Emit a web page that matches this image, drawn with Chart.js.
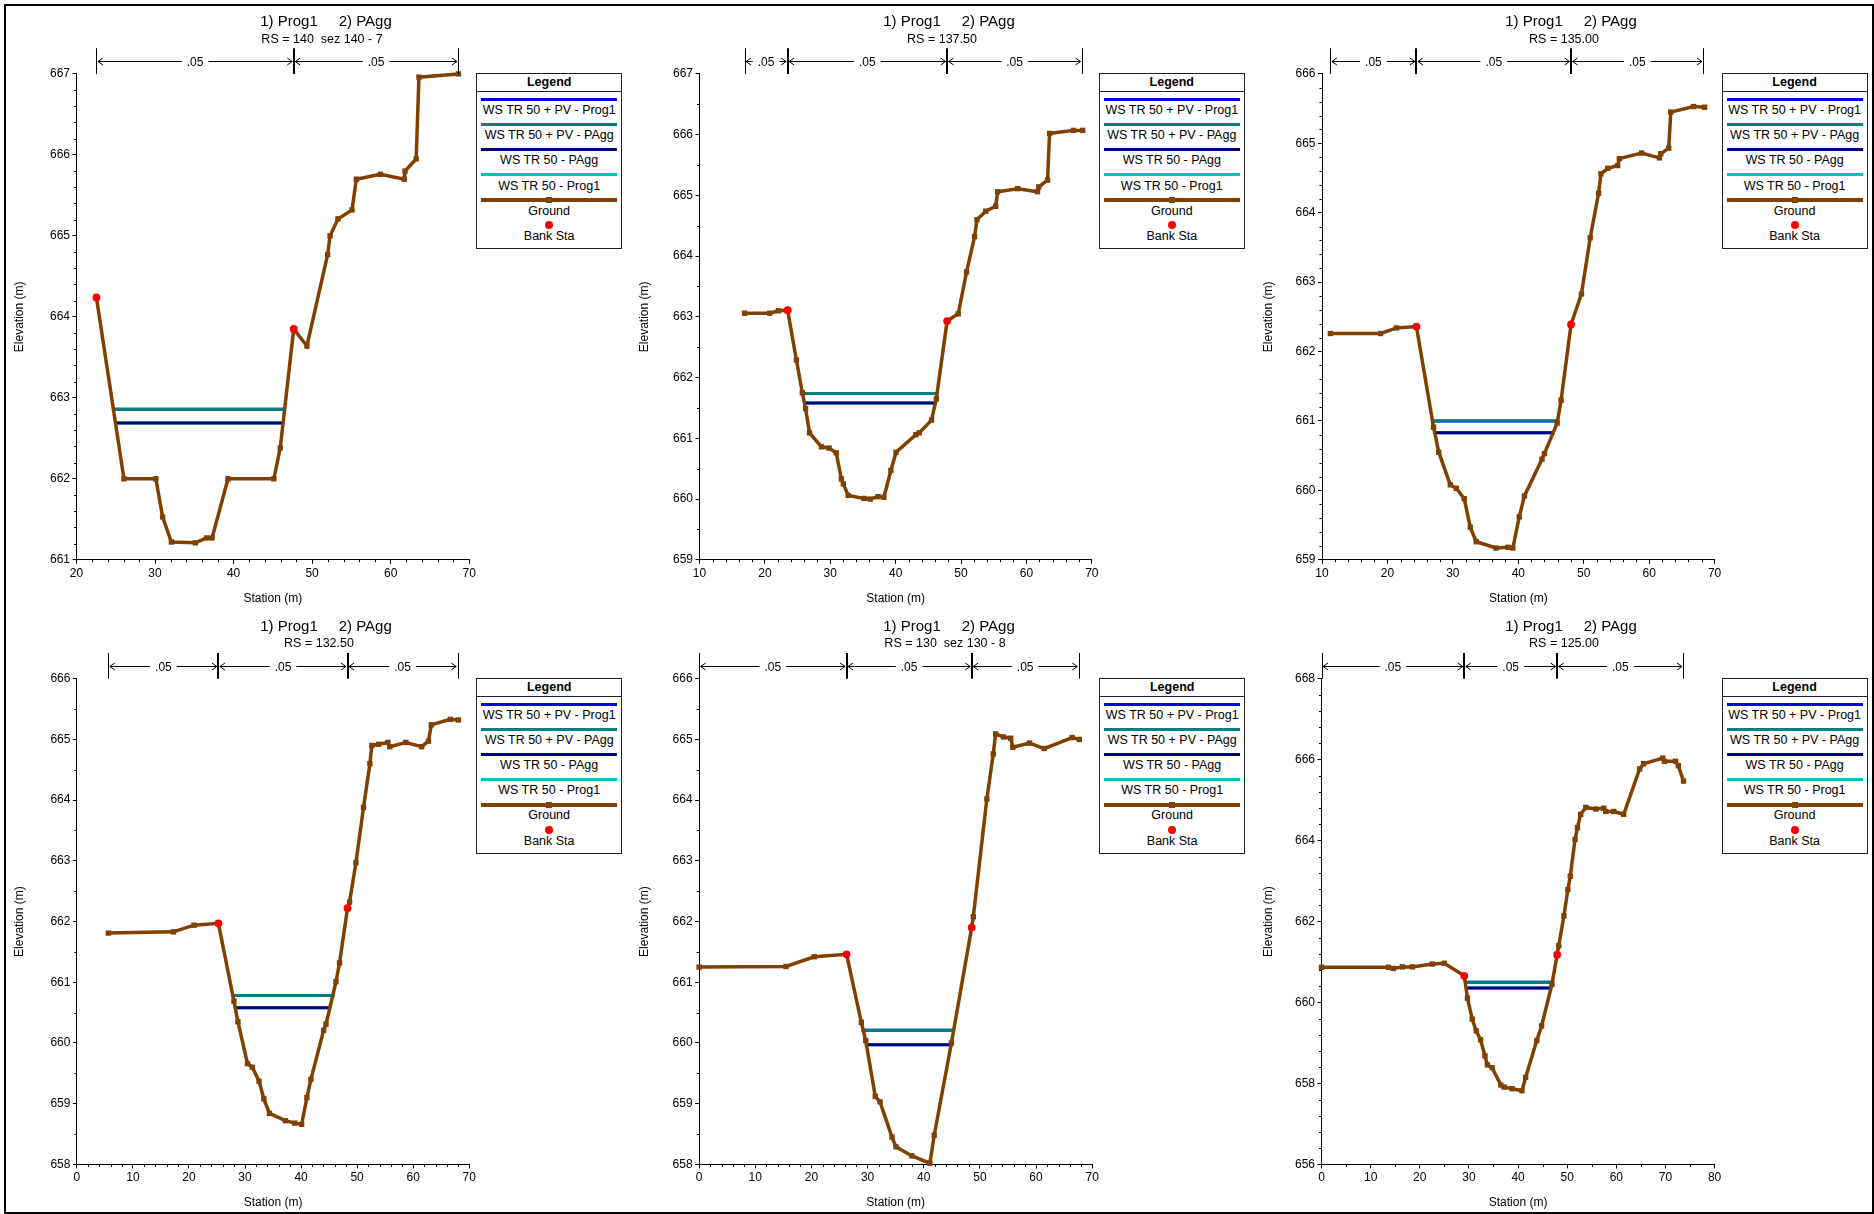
<!DOCTYPE html>
<html>
<head>
<meta charset="utf-8">
<script src="https://cdn.jsdelivr.net/npm/chart.js@4.4.1/dist/chart.umd.min.js"></script>
<style>
html,body{margin:0;padding:0;background:#fff;}
body{width:1874px;height:1214px;position:relative;overflow:hidden;font-family:"Liberation Sans",Arial,sans-serif;color:#000;}
.frame{position:absolute;left:4px;top:4px;width:1870px;height:1210px;border:2px solid #000;box-sizing:border-box;pointer-events:none;z-index:5;}
.panel{position:absolute;width:624px;height:607px;}
.panel canvas{position:absolute;left:0;top:0;}
.ttl{position:absolute;white-space:pre;transform:translate(-50%,-50%);line-height:1;}
.legend{position:absolute;width:146px;height:176px;border:1px solid #222;box-sizing:border-box;background:#fff;}
.legend .t{position:absolute;left:0;right:0;text-align:center;font-size:12.5px;line-height:1;transform:translateY(-50%);white-space:pre;}
.legend .h{font-weight:bold;}
.legend .sep{position:absolute;left:0;right:0;height:1px;background:#222;}
.legend .ln{position:absolute;left:4px;right:4px;height:3px;}
.legend .mk{position:absolute;width:6px;height:6px;left:50%;margin-left:-3px;}
.legend .dot{position:absolute;width:8px;height:8px;border-radius:50%;left:50%;margin-left:-4px;background:#ff0000;}
</style>
</head>
<body>
<div class="frame"></div>
<script>
// ---------------- DATA ----------------
const seriesLabels = ['WS TR 50 + PV - Prog1','WS TR 50 + PV - PAgg','WS TR 50 - PAgg','WS TR 50 - Prog1','Ground','Bank Sta'];
const seriesColors = ['#0000ff','#008080','#000080','#00c0c0','#804000','#ff0000'];

const titleMain = '1) Prog1     2) PAgg';
const subTitles = ['RS = 140  sez 140 - 7','RS = 137.50','RS = 135.00','RS = 132.50','RS = 130  sez 130 - 8','RS = 125.00'];

// Panel 1 : RS 140
const p1GroundX = [22.54,26.04,30.10,30.96,32.08,35.13,36.55,37.26,39.29,45.13,45.94,47.66,49.34,51.98,52.28,53.30,55.08,55.63,58.68,61.73,61.83,63.25,63.60,68.63];
const p1GroundY = [664.24,662.00,662.00,661.53,661.22,661.21,661.27,661.27,662.00,662.00,662.38,663.85,663.64,664.77,665.00,665.21,665.32,665.70,665.76,665.70,665.80,665.95,666.96,667.00];
const p1BankX = [22.54,47.66];
const p1BankY = [664.24,663.85];
const p1WsPv = [662.86, 24.62, 46.65];
const p1Ws = [662.69, 24.82, 46.45];
const p1NSta = [22.54,47.66,68.63];
const p1NVal = ['.05','.05'];

// Panel 2 : RS 137.50
const p2GroundX = [16.89,20.73,22.07,23.48,24.82,25.73,26.22,26.83,28.66,29.82,30.91,31.70,32.00,32.74,35.18,36.10,37.30,38.20,39.27,40.06,43.10,43.60,45.49,46.22,47.87,49.57,50.85,52.07,52.44,53.78,55.30,55.60,58.66,61.70,61.89,63.23,63.54,67.20,68.60];
const p2GroundY = [663.06,663.06,663.10,663.11,662.29,661.75,661.49,661.09,660.86,660.84,660.76,660.33,660.25,660.06,660.01,660.00,660.04,660.03,660.47,660.77,661.06,661.09,661.30,661.65,662.93,663.05,663.74,664.32,664.60,664.74,664.82,665.06,665.11,665.06,665.14,665.25,666.02,666.07,666.07];
const p2BankX = [23.48,47.87];
const p2BankY = [663.11,662.93];
const p2WsPv = [661.74, 25.61, 46.46];
const p2Ws = [661.58, 25.85, 46.22];
const p2NSta = [16.89,23.48,47.87,68.50];
const p2NVal = ['.05','.05','.05'];

// Panel 3 : RS 135.00
const p3GroundX = [11.28,18.95,21.39,24.43,27.05,27.84,29.61,30.52,31.74,32.66,33.57,36.60,38.44,39.17,40.15,40.94,43.62,43.99,45.94,46.54,48.06,49.65,50.99,52.27,52.63,53.67,55.19,55.44,58.85,61.58,61.77,62.99,63.30,66.77,68.47];
const p3GroundY = [662.26,662.26,662.34,662.36,660.91,660.55,660.08,660.03,659.88,659.47,659.26,659.17,659.18,659.17,659.62,659.92,660.45,660.53,660.97,661.30,662.39,662.83,663.64,664.28,664.56,664.64,664.68,664.78,664.86,664.79,664.85,664.93,665.45,665.53,665.52];
const p3BankX = [24.43,48.06];
const p3BankY = [662.36,662.39];
const p3WsPv = [661.00, 26.75, 46.24];
const p3Ws = [660.83, 27.05, 45.57];
const p3NSta = [11.28,24.43,48.06,68.30];
const p3NVal = ['.05','.05','.05'];

// Panel 4 : RS 132.50
const p4GroundX = [5.62,17.20,20.90,25.25,28.02,28.73,30.44,31.30,32.50,33.36,34.36,37.20,38.90,40.10,41.04,41.75,44.03,44.45,46.23,46.87,48.29,48.65,49.79,51.14,52.28,52.63,53.84,55.48,55.83,58.68,61.52,62.73,63.23,66.64,68.07];
const p4GroundY = [661.81,661.83,661.94,661.97,660.69,660.35,659.66,659.60,659.37,659.08,658.84,658.72,658.68,658.66,659.10,659.40,660.21,660.31,661.01,661.32,662.22,662.32,662.97,663.88,664.60,664.90,664.92,664.95,664.88,664.95,664.88,664.97,665.24,665.33,665.32];
const p4BankX = [25.25,48.29];
const p4BankY = [661.97,662.22];
const p4WsPv = [660.78, 27.60, 45.95];
const p4Ws = [660.58, 28.02, 45.38];
const p4NSta = [5.62,25.25,48.29,67.95];
const p4NVal = ['.05','.05','.05'];

// Panel 5 : RS 130
const p5GroundX = [0.00,15.47,20.51,26.26,28.89,29.67,31.37,32.22,34.35,35.06,37.90,41.09,41.87,44.93,48.54,48.83,51.24,52.38,52.80,54.22,55.50,55.86,58.84,61.46,66.43,67.71];
const p5GroundY = [661.25,661.26,661.42,661.46,660.34,660.04,659.12,659.03,658.45,658.29,658.14,658.02,658.48,660.00,661.90,662.08,664.02,664.76,665.09,665.04,665.02,664.87,664.94,664.85,665.03,665.00];
const p5BankX = [26.26,48.54];
const p5BankY = [661.46,661.90];
const p5WsPv = [660.21, 28.96, 45.56];
const p5Ws = [659.97, 29.52, 45.14];
const p5NSta = [0.00,26.26,48.54,67.60];
const p5NVal = ['.05','.05','.05'];

// Panel 6 : RS 125.00
const p6GroundX = [0.00,13.63,14.60,16.47,18.50,22.56,24.99,29.05,29.70,30.67,31.48,32.37,33.27,33.75,34.72,36.50,37.16,38.78,40.80,41.54,43.81,44.79,46.90,47.95,48.28,49.33,50.14,50.63,51.60,52.09,52.74,53.79,55.82,57.44,57.85,59.47,61.50,64.75,65.56,69.45,69.78,72.05,72.62,73.67];
const p6GroundY = [660.87,660.87,660.84,660.88,660.88,660.95,660.97,660.66,660.11,659.59,659.30,659.08,658.68,658.46,658.39,657.96,657.91,657.87,657.82,658.15,659.06,659.42,660.45,661.18,661.40,662.14,662.79,663.12,664.03,664.32,664.65,664.82,664.78,664.80,664.72,664.72,664.65,665.77,665.90,666.04,665.96,665.96,665.85,665.47];
const p6BankX = [29.05,47.95];
const p6BankY = [660.66,661.18];
const p6WsPv = [660.50, 29.05, 46.90];
const p6Ws = [660.36, 29.29, 46.73];
const p6NSta = [0.00,29.05,47.95,73.67];
const p6NVal = ['.05','.05','.05'];

// Axis ranges: [min, max, majorStep, minorStep]
const xAxes = [[20,70,10,2],[10,70,10,2],[10,70,10,2],[0,70,10,2],[0,70,10,2],[0,80,10,5]];
const yAxes = [[661,667,1,0.2],[659,667,1,0.5],[659,666,1,0.2],[658,666,1,0.5],[658,666,1,0.5],[656,668,2,0.4]];

// ---------------- LAYOUT ----------------
const panelOrigin = [[0,0],[625,0],[1249,0],[0,607],[625,607],[1249,607]];
const plotBox = [ // left, right, top, bottom (relative to panel)
  [76.5,469.2,73.9,559.8],[74.5,466.8,73.9,559.8],[73.0,465.6,73.9,559.8],
  [76.9,469.2,71.7,557.4],[74.1,467.2,71.7,557.4],[72.5,465.6,71.7,557.4]];
const titlePos = [[326,19.6,322,38.6],[324,19.6,317,38.6],[322,19.6,315,38.6],
                  [326,17.6,319,36.2],[324,17.6,320,36.2],[322,17.6,315,36.2]];
const PW = 624, PH = 607, XAXIS_H = 47;

const groundX = [p1GroundX,p2GroundX,p3GroundX,p4GroundX,p5GroundX,p6GroundX];
const groundY = [p1GroundY,p2GroundY,p3GroundY,p4GroundY,p5GroundY,p6GroundY];
const bankX = [p1BankX,p2BankX,p3BankX,p4BankX,p5BankX,p6BankX];
const bankY = [p1BankY,p2BankY,p3BankY,p4BankY,p5BankY,p6BankY];
const wsPv = [p1WsPv,p2WsPv,p3WsPv,p4WsPv,p5WsPv,p6WsPv];
const ws = [p1Ws,p2Ws,p3Ws,p4Ws,p5Ws,p6Ws];
const nSta = [p1NSta,p2NSta,p3NSta,p4NSta,p5NSta,p6NSta];
const nVal = [p1NVal,p2NVal,p3NVal,p4NVal,p5NVal,p6NVal];

Chart.defaults.font.family = '"Liberation Sans", Arial, sans-serif';
Chart.defaults.font.size = 12;
Chart.defaults.color = '#000';

const mannPlugin = {
  id: 'mann',
  afterDraw(chart, args, o) {
    if (!o || !o.stations) return;
    const {ctx, chartArea: ca, scales: {x}} = chart;
    const yA = Math.round(ca.top - 12.8) + 0.5;
    const yT = ca.top - 25.7;
    ctx.save();
    ctx.strokeStyle = '#000'; ctx.fillStyle = '#000';
    ctx.font = '12px "Liberation Sans", Arial, sans-serif';
    ctx.textAlign = 'center'; ctx.textBaseline = 'middle';
    const px = o.stations.map(s => x.getPixelForValue(s));
    px.forEach((p, i) => {
      const interior = i > 0 && i < px.length - 1;
      ctx.lineWidth = interior ? 2 : 1;
      const xx = interior ? Math.round(p) : Math.round(p) + 0.5;
      ctx.beginPath(); ctx.moveTo(xx, yT); ctx.lineTo(xx, ca.top); ctx.stroke();
    });
    ctx.lineWidth = 1;
    for (let i = 0; i < px.length - 1; i++) {
      const a = px[i] + 1.5, b = px[i + 1] - 1.5, m = (px[i] + px[i + 1]) / 2;
      const t = o.values[i];
      const g = ctx.measureText(t).width / 2 + 5;
      ctx.beginPath();
      ctx.moveTo(a, yA); ctx.lineTo(m - g, yA);
      ctx.moveTo(m + g, yA); ctx.lineTo(b, yA);
      ctx.moveTo(a + 5, yA - 3.5); ctx.lineTo(a, yA); ctx.lineTo(a + 5, yA + 3.5);
      ctx.moveTo(b - 5, yA - 3.5); ctx.lineTo(b, yA); ctx.lineTo(b - 5, yA + 3.5);
      ctx.stroke();
      ctx.fillText(t, m, yA + 1);
    }
    ctx.restore();
  }
};

const minorPlugin = {
  id: 'minor',
  afterDraw(chart, args, o) {
    if (!o || !o.x) return;
    const {ctx, chartArea: ca, scales: {x, y}} = chart;
    ctx.save(); ctx.strokeStyle = '#000'; ctx.lineWidth = 1; ctx.beginPath();
    const isMajor = (v, step) => Math.abs(v / step - Math.round(v / step)) < 1e-6;
    let n = Math.round((o.x[1] - o.x[0]) / o.x[3]);
    for (let k = 0; k <= n; k++) {
      const v = o.x[0] + k * o.x[3];
      if (isMajor(v, o.x[2])) continue;
      const p = Math.round(x.getPixelForValue(v)) + 0.5;
      ctx.moveTo(p, ca.bottom); ctx.lineTo(p, ca.bottom + 2.5);
    }
    n = Math.round((o.y[1] - o.y[0]) / o.y[3]);
    for (let k = 0; k <= n; k++) {
      const v = o.y[0] + k * o.y[3];
      if (isMajor(v, o.y[2])) continue;
      const p = Math.round(y.getPixelForValue(v)) + 0.5;
      ctx.moveTo(ca.left - 2.5, p); ctx.lineTo(ca.left, p);
    }
    ctx.stroke(); ctx.restore();
  }
};
Chart.register(mannPlugin, minorPlugin);

function pts(xs, ys) { return xs.map((v, i) => ({x: v, y: ys[i]})); }
function wsLine(w) { return [{x: w[1], y: w[0]}, {x: w[2], y: w[0]}]; }

function addText(parent, cls, text, cx, cy, size) {
  const d = document.createElement('div');
  d.className = cls; d.textContent = text;
  d.style.left = cx + 'px'; d.style.top = cy + 'px'; d.style.fontSize = size + 'px';
  parent.appendChild(d);
}

function buildLegend(parent, left, top) {
  const lg = document.createElement('div');
  lg.className = 'legend'; lg.style.left = left + 'px'; lg.style.top = top + 'px';
  const mk = (cls, css, text) => {
    const e = document.createElement('div'); e.className = cls;
    Object.assign(e.style, css); if (text) e.textContent = text; lg.appendChild(e); return e;
  };
  mk('t h', {top: '8px'}, 'Legend');
  mk('sep', {top: '17px'});
  for (let i = 0; i < 5; i++) {
    const ly = 25.2 + 25.1 * i;
    mk('ln', {top: (ly - 1.5) + 'px', background: seriesColors[i], height: i === 4 ? '3.5px' : '3px'});
    if (i === 4) mk('mk', {top: (ly - 3) + 'px', background: seriesColors[4]});
    mk('t', {top: (ly + 10.8) + 'px'}, seriesLabels[i]);
  }
  mk('dot', {top: (150.6 - 4) + 'px'});
  mk('t', {top: '161.6px'}, seriesLabels[5]);
  parent.appendChild(lg);
}

for (let k = 0; k < 6; k++) {
  const [ox, oy] = panelOrigin[k];
  const [pl, pr, pt, pb] = plotBox[k];
  const panel = document.createElement('div');
  panel.className = 'panel'; panel.style.left = ox + 'px'; panel.style.top = oy + 'px';
  document.body.appendChild(panel);
  const cv = document.createElement('canvas');
  cv.width = PW; cv.height = PH; cv.style.width = PW + 'px'; cv.style.height = PH + 'px';
  panel.appendChild(cv);

  const tp = titlePos[k];
  addText(panel, 'ttl', titleMain, tp[0], tp[1], 15);
  addText(panel, 'ttl', subTitles[k], tp[2], tp[3], 12.5);
  buildLegend(panel, pr + 7, pt - 0.6);

  const xa = xAxes[k], ya = yAxes[k];
  new Chart(cv, {
    type: 'line',
    data: {
      datasets: [
        {label: seriesLabels[5], data: pts(bankX[k], bankY[k]), showLine: false,
         pointStyle: 'circle', pointRadius: 3.9, pointBackgroundColor: seriesColors[5], pointBorderWidth: 0, clip: false},
        {label: seriesLabels[4], data: pts(groundX[k], groundY[k]), borderColor: seriesColors[4], borderWidth: 3.5,
         pointStyle: 'rect', pointRadius: 3.8, pointBackgroundColor: seriesColors[4], pointBorderWidth: 0, clip: false},
        {label: seriesLabels[1], data: wsLine(wsPv[k]), borderColor: seriesColors[1], borderWidth: 3, pointRadius: 0, clip: false},
        {label: seriesLabels[2], data: wsLine(ws[k]), borderColor: seriesColors[2], borderWidth: 3, pointRadius: 0, clip: false},
        {label: seriesLabels[0], data: wsLine(wsPv[k]), borderColor: seriesColors[0], borderWidth: 3, pointRadius: 0, clip: false},
        {label: seriesLabels[3], data: wsLine(ws[k]), borderColor: seriesColors[3], borderWidth: 3, pointRadius: 0, clip: false}
      ]
    },
    options: {
      responsive: false, animation: false, devicePixelRatio: 1,
      events: [],
      elements: {line: {tension: 0, borderCapStyle: 'butt', borderJoinStyle: 'miter'}},
      layout: {padding: {left: 0, top: pt, right: PW - pr, bottom: PH - pb - XAXIS_H}},
      plugins: {
        legend: {display: false}, tooltip: {enabled: false}, title: {display: false},
        mann: {stations: nSta[k], values: nVal[k]},
        minor: {x: xa, y: ya}
      },
      scales: {
        x: {
          type: 'linear', min: xa[0], max: xa[1],
          afterFit(s) { s.height = XAXIS_H; },
          ticks: {stepSize: xa[2], color: '#000', padding: 2.5, maxRotation: 0, autoSkip: false, font: {size: 12}},
          grid: {drawOnChartArea: false, drawTicks: true, tickLength: 4, color: '#000', tickColor: '#000'},
          border: {display: true, color: '#000', width: 1},
          title: {display: true, text: 'Station (m)', color: '#000', font: {size: 12}, padding: {top: 0, bottom: 1.3}}
        },
        y: {
          type: 'linear', min: ya[0], max: ya[1],
          afterFit(s) { s.width = pl; },
          ticks: {stepSize: ya[2], color: '#000', padding: 2.5, autoSkip: false, font: {size: 12}},
          grid: {drawOnChartArea: false, drawTicks: true, tickLength: 4, color: '#000', tickColor: '#000'},
          border: {display: true, color: '#000', width: 1},
          title: {display: true, text: 'Elevation (m)', color: '#000', font: {size: 12}, padding: {top: 12.8, bottom: 0}}
        }
      }
    }
  });
}
</script>
</body>
</html>
